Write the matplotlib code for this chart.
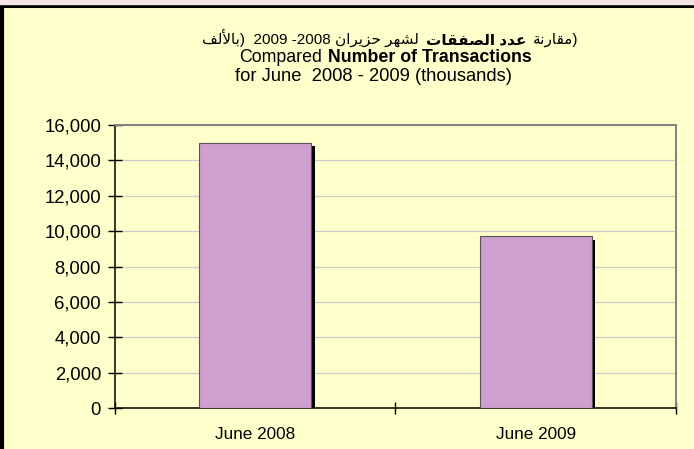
import matplotlib
matplotlib.use('Agg')
import matplotlib.pyplot as plt
import matplotlib.patheffects as pe
from matplotlib.offsetbox import TextArea, HPacker, AnchoredOffsetbox
from matplotlib.patches import Rectangle
from matplotlib.lines import Line2D
import numpy as np

categories = ["June 2008", "June 2009"]
transactions = [15000, 9700]
yticks = np.arange(0, 16001, 2000)

# arabic presentation forms: iso, final, initial, medial
FORMS = {
    'ا': (0xFE8D, 0xFE8E, None, None), 'أ': (0xFE83, 0xFE84, None, None),
    'ب': (0xFE8F, 0xFE90, 0xFE91, 0xFE92), 'ة': (0xFE93, 0xFE94, None, None),
    'ت': (0xFE95, 0xFE96, 0xFE97, 0xFE98), 'ح': (0xFEA1, 0xFEA2, 0xFEA3, 0xFEA4),
    'د': (0xFEA9, 0xFEAA, None, None), 'ر': (0xFEAD, 0xFEAE, None, None),
    'ز': (0xFEAF, 0xFEB0, None, None), 'ش': (0xFEB5, 0xFEB6, 0xFEB7, 0xFEB8),
    'ص': (0xFEB9, 0xFEBA, 0xFEBB, 0xFEBC), 'ع': (0xFEC9, 0xFECA, 0xFECB, 0xFECC),
    'ف': (0xFED1, 0xFED2, 0xFED3, 0xFED4), 'ق': (0xFED5, 0xFED6, 0xFED7, 0xFED8),
    'ل': (0xFEDD, 0xFEDE, 0xFEDF, 0xFEE0), 'م': (0xFEE1, 0xFEE2, 0xFEE3, 0xFEE4),
    'ن': (0xFEE5, 0xFEE6, 0xFEE7, 0xFEE8), 'ه': (0xFEE9, 0xFEEA, 0xFEEB, 0xFEEC),
    'ي': (0xFEF1, 0xFEF2, 0xFEF3, 0xFEF4),
}
LAM_ALEF = {'ا': (0xFEFB, 0xFEFC), 'أ': (0xFEF7, 0xFEF8)}


def shape(word):
    # minimal shaping + reverse to visual order
    out = []
    prev_joins = False
    i = 0
    while i < len(word):
        c = word[i]
        if c == 'ل' and i + 1 < len(word) and word[i + 1] in LAM_ALEF:
            lig = LAM_ALEF[word[i + 1]]
            out.append(chr(lig[1] if prev_joins else lig[0]))
            prev_joins = False
            i += 2
            continue
        iso, fin, ini, med = FORMS[c]
        can_next = ini is not None and i + 1 < len(word)
        if prev_joins and can_next:
            g = med
        elif prev_joins:
            g = fin
        elif can_next:
            g = ini
        else:
            g = iso
        out.append(chr(g))
        prev_joins = can_next
        i += 1
    return ''.join(reversed(out))


fams = ['Liberation Sans', 'DejaVu Sans']
plt.rcParams['font.family'] = fams

fig = plt.figure(figsize=(6.94, 4.49), dpi=100)
fig.patch.set_facecolor('#FFFFCC')
ax = fig.add_axes([0.1657, 0.0913, 0.8083, 0.6303])
ax.set_facecolor('#FFFFCC')

x = np.arange(len(categories))
bars = ax.bar(x, transactions, width=0.4, color='#CF9FCF', edgecolor='#555555',
              linewidth=0.8, zorder=3)
for b in bars:
    b.set_path_effects([pe.SimplePatchShadow(offset=(2.3, -2.3), shadow_rgbFace='black', alpha=1),
                        pe.Normal()])

ax.set_xlim(-0.5, 1.5)
ax.set_ylim(0, 16000)
ax.set_yticks(yticks)
ax.set_yticklabels([f"{v:,}" for v in yticks], fontsize=13.3)
ax.set_xticks(x)
ax.set_xticklabels(categories, fontsize=12.3)
ax.set_xticks([-0.5, 0.5, 1.5], minor=True)
ax.tick_params(axis='x', which='major', length=0, pad=14)
ax.tick_params(axis='x', which='minor', direction='inout', length=9, width=1)
ax.tick_params(axis='y', direction='inout', length=10, width=1, pad=5)
ax.grid(axis='y', color='#CCCCCC', linewidth=0.9, zorder=0)
ax.set_axisbelow(True)
for s in ['top', 'right']:
    ax.spines[s].set_color('#808080')
    ax.spines[s].set_linewidth(1.4)
for s in ['left', 'bottom']:
    ax.spines[s].set_color('black')
    ax.spines[s].set_linewidth(1.1)

# titles
ar1 = TextArea(shape("بالألف") + ")  2009 -2008 " + shape("حزيران") + " " + shape("لشهر"),
               textprops=dict(fontsize=11, family=fams))
ar2 = TextArea(shape("الصفقات") + " " + shape("عدد"),
               textprops=dict(fontsize=11, family=fams, fontweight='bold'))
ar3 = TextArea(shape("مقارنة") + ")", textprops=dict(fontsize=11, family=fams))
line1 = HPacker(children=[ar1, ar2, ar3], align='baseline', pad=0, sep=5)
fig.add_artist(AnchoredOffsetbox(loc='center', child=line1, pad=0, borderpad=0, frameon=False,
                                 bbox_to_anchor=(0.562, 0.915), bbox_transform=fig.transFigure))

en1 = TextArea("Compared", textprops=dict(fontsize=12.8))
en2 = TextArea("Number of Transactions", textprops=dict(fontsize=12.8, fontweight='bold'))
line2 = HPacker(children=[en1, en2], align='baseline', pad=0, sep=4)
fig.add_artist(AnchoredOffsetbox(loc='center', child=line2, pad=0, borderpad=0, frameon=False,
                                 bbox_to_anchor=(0.555, 0.871), bbox_transform=fig.transFigure))
fig.text(0.538, 0.830, "for June  2008 - 2009 (thousands)", fontsize=13.2, ha='center', va='center')

# frame decoration
fig.add_artist(Rectangle((0, 0.99), 1, 0.01, transform=fig.transFigure, color='#F2E6E6', zorder=5))
fig.add_artist(Line2D([0, 1], [0.9865, 0.9865], transform=fig.transFigure, color='black', lw=2.2))
fig.add_artist(Line2D([0.003, 0.003], [0, 0.99], transform=fig.transFigure, color='black', lw=3))

fig.savefig('out.png', dpi=100, facecolor=fig.get_facecolor())
